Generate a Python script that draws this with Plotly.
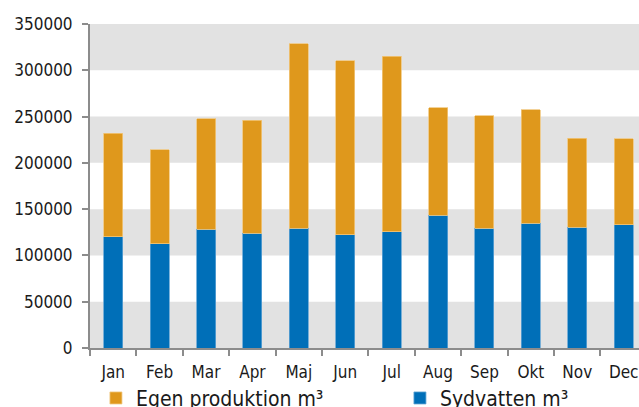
import plotly.graph_objects as go

months = ["Jan", "Feb", "Mar", "Apr", "Maj", "Jun", "Jul", "Aug", "Sep", "Okt", "Nov", "Dec"]
sydvatten = [120200, 112700, 128200, 123900, 129600, 122100, 125700, 143300, 129600, 134700, 130700, 133200]
totals = [231900, 213900, 247500, 245800, 328500, 310500, 315000, 259300, 251000, 257500, 226800, 225800]
egen = [t - s for t, s in zip(totals, sydvatten)]
y_ticks = [0, 50000, 100000, 150000, 200000, 250000, 300000, 350000]

FONT = "DejaVu Sans Condensed, DejaVu Sans, sans-serif"
ORANGE = "#DF981C"
BLUE = "#006FB8"

fig = go.Figure()
fig.add_trace(go.Bar(
    x=months, y=sydvatten, name="Sydvatten m³",
    marker=dict(color=BLUE, line=dict(color="#5fa3d3", width=0.8)),
    width=0.41,
))
fig.add_trace(go.Bar(
    x=months, y=egen, name="Egen produktion m³",
    marker=dict(color=ORANGE, line=dict(color="#f0c77e", width=0.8)),
    width=0.41,
))

shapes = []
for lo in range(0, 350000, 100000):
    shapes.append(dict(type="rect", xref="paper", yref="y", x0=0, x1=1,
                       y0=lo, y1=lo + 50000, fillcolor="#E2E2E2",
                       line=dict(width=0), layer="below"))

fig.update_layout(
    width=639, height=407,
    barmode="stack",
    paper_bgcolor="white", plot_bgcolor="white",
    margin=dict(l=90, r=0, t=24, b=59, autoexpand=False),
    font=dict(family=FONT, size=17, color="#1a1a1a"),
    shapes=shapes,
    showlegend=True,
    legend=dict(orientation="h", traceorder="reversed",
                x=-0.0001, xanchor="left",
                y=-0.0735, yanchor="top",
                font=dict(size=21, family=FONT, color="#1a1a1a"),
                bgcolor="rgba(0,0,0,0)", bordercolor="rgba(0,0,0,0)",
                borderwidth=6, itemwidth=30,
                entrywidthmode="pixels", entrywidth=259),
    xaxis=dict(range=[-0.5, 11.33], showgrid=False, showline=True,
               linecolor="#8c8c8c", linewidth=2, ticks="outside",
               tickson="boundaries", ticklen=6, tickcolor="#8c8c8c",
               tickwidth=2, tickfont=dict(size=17), fixedrange=True,
               ticklabelstandoff=8),
    yaxis=dict(range=[0, 350000], tickvals=y_ticks,
               ticktext=[str(v) for v in y_ticks], showgrid=False,
               showline=True, linecolor="#8c8c8c", linewidth=2,
               ticks="outside", ticklen=6, tickcolor="#8c8c8c",
               tickwidth=2, tickfont=dict(size=17), zeroline=False,
               ticklabelstandoff=6),
)

fig.write_html("out.html", config={"displayModeBar": False},
               post_script="document.body.style.margin='0px';document.body.style.overflow='hidden';")
